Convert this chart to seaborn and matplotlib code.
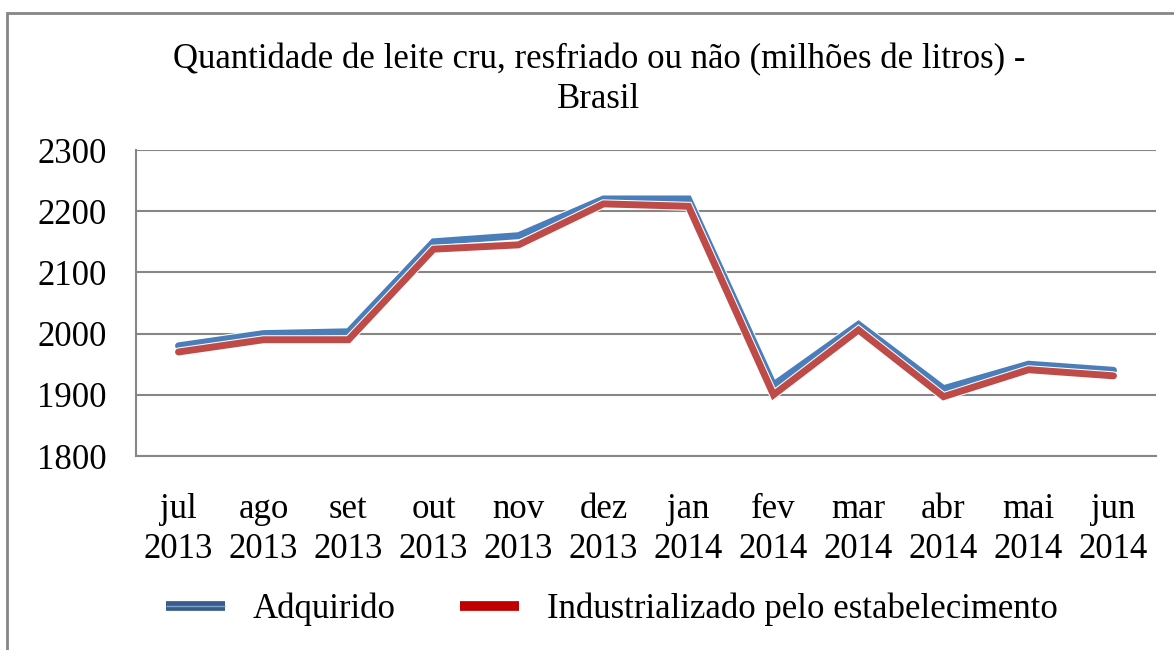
import numpy as np
import pandas as pd
import seaborn as sns
import matplotlib.pyplot as plt
import matplotlib.patheffects as pe
from matplotlib.lines import Line2D
from matplotlib.patches import Rectangle

meses = ["jul\n2013", "ago\n2013", "set\n2013", "out\n2013", "nov\n2013", "dez\n2013",
         "jan\n2014", "fev\n2014", "mar\n2014", "abr\n2014", "mai\n2014", "jun\n2014"]
adquirido = [1980, 2000, 2003, 2150, 2160, 2220, 2220, 1916, 2015, 1910, 1950, 1940]
industrializado = [1970, 1990, 1990, 2138, 2145, 2212, 2208, 1900, 2006, 1897, 1941, 1931]
series = ["Adquirido", "Industrializado pelo estabelecimento"]

df = pd.DataFrame({
    "pos": list(range(len(meses))) * 2,
    "valor": adquirido + industrializado,
    "serie": [series[0]] * len(meses) + [series[1]] * len(meses),
})

sns.set_style("white")
plt.rcParams["font.family"] = ["Liberation Serif", "DejaVu Serif"]
plt.rcParams["text.color"] = "black"
plt.rcParams["xtick.labelcolor"] = "black"
plt.rcParams["ytick.labelcolor"] = "black"

fig = plt.figure(figsize=(11.74, 6.5), dpi=100)
ax = fig.add_axes([136 / 1174, 1 - 456 / 650, 1020 / 1174, 306 / 650])

sns.lineplot(
    data=df,
    x="pos",
    y="valor",
    hue="serie",
    palette=["#4A7EBB", "#BE4B48"],
    linewidth=5,
    legend=False,
    ax=ax,
)
for ln in ax.lines:
    ln.set_solid_joinstyle("miter")
    ln.set_path_effects([pe.withStroke(linewidth=6.5, foreground="white")])

ax.set_xlim(-0.5, len(meses) - 0.5)
ax.set_ylim(1800, 2300)
ax.set_yticks(range(1800, 2301, 100))
ax.yaxis.grid(True, color="#868686", linewidth=1.5)
ax.set_axisbelow(True)

ax.set_xticks(range(len(meses)))
ax.set_xticklabels(meses, fontsize=25, linespacing=1.25)
ax.set_xticks(np.arange(-0.5, len(meses), 1), minor=True)
ax.tick_params(axis="x", which="major", length=0, pad=27)
ax.tick_params(axis="x", which="minor", length=9, width=1.5, color="#868686")
ax.tick_params(axis="y", length=9, width=1.5, color="#868686", labelsize=25, pad=12)
ax.set_xlabel("")
ax.set_ylabel("")

for side in ["top", "right"]:
    ax.spines[side].set_visible(False)
for side in ["left", "bottom"]:
    ax.spines[side].set_color("#868686")
    ax.spines[side].set_linewidth(1.5)

fig.text(0.51, 0.878, "Quantidade de leite cru, resfriado ou não (milhões de litros) -\nBrasil",
         ha="center", va="center", fontsize=25, linespacing=1.25)

handles = [
    Line2D([0], [0], color="#7FA1CC", linewidth=1, solid_capstyle="butt",
           path_effects=[pe.Stroke(linewidth=7, foreground="#385D8A", capstyle="butt"), pe.Normal()]),
    Line2D([0], [0], color="#C00000", linewidth=7, solid_capstyle="butt"),
]
fig.legend(handles, series, loc="center", bbox_to_anchor=(0.521, 0.063), ncol=2,
           frameon=False, fontsize=25, handlelength=1.7, handletextpad=0.8,
           columnspacing=1.85)

fig.patches.append(Rectangle((7 / 1174, -0.1), 1.2, 1 - 13 / 650 + 0.1,
                             transform=fig.transFigure, fill=False,
                             edgecolor="#868686", linewidth=2))

plt.savefig("out.png", dpi=100)
